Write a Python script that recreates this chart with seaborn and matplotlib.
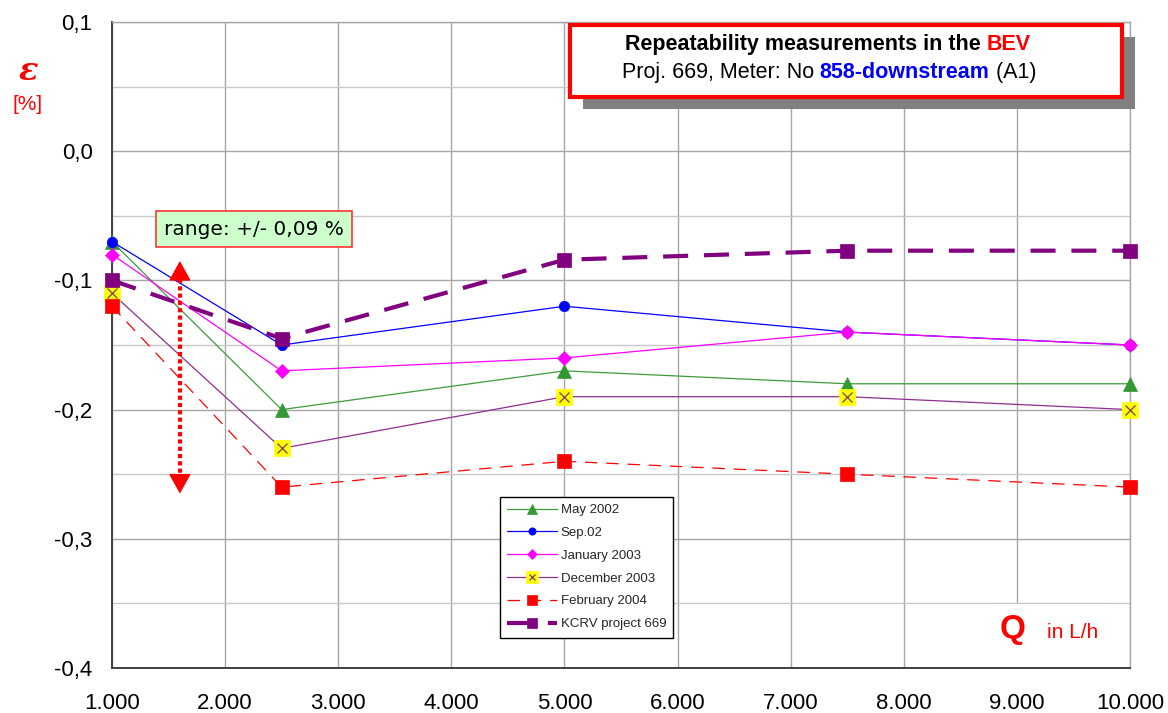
import matplotlib
matplotlib.use("Agg")
import matplotlib.pyplot as plt
import numpy as np
import pandas as pd
import seaborn as sns
from matplotlib.patches import Rectangle
from matplotlib.legend_handler import HandlerTuple
from matplotlib.ticker import FuncFormatter, FixedLocator, MultipleLocator

# ---- data -------------------------------------------------------------
flow_rates = [1000, 2500, 5000, 7500, 10000]          # Q in L/h
may_2002 = [-0.07, -0.20, -0.17, -0.18, -0.18]
sep_2002 = [-0.07, -0.15, -0.12, -0.14, -0.15]
jan_2003 = [-0.08, -0.17, -0.16, -0.14, -0.15]
dec_2003 = [-0.11, -0.23, -0.19, -0.19, -0.20]
feb_2004 = [-0.12, -0.26, -0.24, -0.25, -0.26]
kcrv_669 = [-0.100, -0.145, -0.084, -0.077, -0.077]

series_labels = ["May 2002", "Sep.02", "January 2003", "December 2003",
                 "February 2004", "KCRV project 669"]

x_ticks = [1000, 2000, 3000, 4000, 5000, 6000, 7000, 8000, 9000, 10000]
y_ticks = [-0.4, -0.3, -0.2, -0.1, 0.0, 0.1]

range_center = -0.175
range_half = 0.09
range_x = 1600
range_text = "range: +/- 0,09 %"

# ---- figure -----------------------------------------------------------
sns.set_style("white")
plt.rcParams["font.family"] = ["Liberation Sans", "DejaVu Sans"]

FW, FH = 1168, 713
fig = plt.figure(figsize=(FW / 100, FH / 100), dpi=100)
fig.patch.set_facecolor("white")
ax = fig.add_axes([112 / FW, 1 - 668 / FH, (1130 - 112) / FW, (668 - 22) / FH])
ax.set_axisbelow(True)


def draw_series(values, **kw):
    df = pd.DataFrame({"Q": flow_rates, "eps": values})
    sns.lineplot(data=df, x="Q", y="eps", ax=ax, errorbar=None, sort=False,
                 clip_on=False, **kw)
    return ax.lines[-1]


h_may = draw_series(may_2002, color="#3c9c3c", marker="^", markersize=10,
                    markerfacecolor="#339933", markeredgecolor="#339933",
                    markeredgewidth=0.5, linewidth=0.9, zorder=3)
h_sep = draw_series(sep_2002, color="#0000ff", marker="o", markersize=7.5,
                    markerfacecolor="#0000ff", markeredgecolor="#0000ff",
                    markeredgewidth=0.5, linewidth=0.9, zorder=3)
h_jan = draw_series(jan_2003, color="#ff00ff", marker="D", markersize=7.5,
                    markerfacecolor="#ff00ff", markeredgecolor="#ff00ff",
                    markeredgewidth=0.5, linewidth=0.9, zorder=3)
h_dec = draw_series(dec_2003, color="#8e2e8e", marker="s", markersize=11.5,
                    markerfacecolor="#ffff00", markeredgecolor="#ffff00",
                    markeredgewidth=0.5, linewidth=0.9, zorder=3)
h_dec_x = draw_series(dec_2003, color="#7a3b6e", marker="x", markersize=7,
                      markeredgecolor="#7a3b6e", markeredgewidth=0.9,
                      linestyle="none", zorder=3.1)
h_feb = draw_series(feb_2004, color="#ff0000", marker="s", markersize=10,
                    markerfacecolor="#ff0000", markeredgecolor="#ff0000",
                    markeredgewidth=0.5, linewidth=0.9,
                    linestyle=(0, (10, 7)), zorder=3)
h_kcrv = draw_series(kcrv_669, color="#800080", marker="s", markersize=9.5,
                     markerfacecolor="#800080", markeredgecolor="#800080",
                     markeredgewidth=0.5, linewidth=3,
                     linestyle=(0, (6, 3.8)), zorder=3.2)

# ---- axes styling -----------------------------------------------------
ax.set_xlim(1000, 10000)
ax.set_ylim(-0.4, 0.1)
ax.xaxis.set_major_locator(FixedLocator(x_ticks))
ax.yaxis.set_major_locator(FixedLocator(y_ticks))
ax.yaxis.set_minor_locator(MultipleLocator(0.05))
ax.xaxis.set_major_formatter(FuncFormatter(lambda v, p: f"{int(round(v)):,}".replace(",", ".")))
ax.yaxis.set_major_formatter(FuncFormatter(lambda v, p: f"{v:.1f}".replace(".", ",").replace("-0,0", "0,0")))
ax.set_xlabel("")
ax.set_ylabel("")

ax.grid(True, which="major", axis="both", color="#a6a6a6", linewidth=1)
ax.grid(True, which="minor", axis="y", color="#c8c8c8", linewidth=1)
ax.tick_params(axis="both", which="major", direction="in", length=5, width=1,
               color="#333333", labelsize=16, labelcolor="black")
ax.tick_params(axis="x", pad=18)
ax.tick_params(axis="y", pad=14)
ax.tick_params(axis="y", which="minor", length=0)
for side in ("left", "bottom"):
    ax.spines[side].set_color("#404040")
    ax.spines[side].set_linewidth(1.4)
for side in ("top", "right"):
    ax.spines[side].set_color("#a6a6a6")
    ax.spines[side].set_linewidth(1)

# ---- legend -----------------------------------------------------------
leg = ax.legend(handles=[h_may, h_sep, h_jan, (h_dec, h_dec_x), h_feb, h_kcrv],
                labels=series_labels, loc="upper left",
                bbox_to_anchor=(0.381, 0.265), handler_map={tuple: HandlerTuple(ndivide=1)},
                prop={"size": 9.5}, frameon=True, fancybox=False, framealpha=1,
                edgecolor="black", handlelength=3.8, handletextpad=0.25,
                labelspacing=0.8, borderpad=0.55, borderaxespad=0, markerscale=0.7)
leg.get_frame().set_linewidth(1)
leg.set_zorder(10)

# ---- range annotation -------------------------------------------------
top = range_center + range_half
bot = range_center - range_half
head = 0.014
ax.plot([range_x, range_x], [top - head, bot + head], color="red", linewidth=3,
        linestyle=(0, (1, 0.75)), dash_capstyle="butt", zorder=4)
for tip, base in ((top, top - head), (bot, bot + head)):
    ax.annotate("", xy=(range_x, tip), xytext=(range_x, base),
                arrowprops=dict(arrowstyle="-|>,head_length=0.9,head_width=0.5",
                                color="red", lw=1, shrinkA=0, shrinkB=0,
                                mutation_scale=14), zorder=4)
ax.text(2255, -0.0603, range_text, ha="center", va="center", fontsize=14.5,
        family=["DejaVu Sans"], color="black", zorder=6,
        bbox=dict(boxstyle="square,pad=0.42", fc="#ccffcc", ec="#ff3333", lw=1.2))

# ---- Q axis caption (white patch over the grid) ------------------------
ax.add_patch(Rectangle(((990 - 112) / 1018, 0), (1108 - 990) / 1018, (668 - 604) / 646,
                       transform=ax.transAxes, facecolor="white", edgecolor="none",
                       zorder=1))
fig.text(1000 / FW, 1 - 638 / FH, "Q", fontsize=24, fontweight="bold", color="red",
         ha="left", va="baseline")
fig.text(1047 / FW, 1 - 638 / FH, "in L/h", fontsize=15, color="red",
         ha="left", va="baseline")

# ---- epsilon axis caption ---------------------------------------------
fig.text(28 / FW, 1 - 72 / FH, "ε", fontsize=23, family=["DejaVu Serif"],
         style="italic", fontweight="bold", color="red", ha="center", va="center")
fig.text(28 / FW, 1 - 105 / FH, "[%]", fontsize=15, color="red",
         ha="center", va="center")

# ---- title box --------------------------------------------------------
bx0, by0, bx1, by1 = 570, 25, 1122, 97
fig.add_artist(Rectangle(((bx0 + 13) / FW, 1 - (by1 + 12) / FH), (bx1 - bx0) / FW,
                         (by1 - by0) / FH, transform=fig.transFigure,
                         facecolor="#808080", edgecolor="none", zorder=2))
fig.add_artist(Rectangle((bx0 / FW, 1 - by1 / FH), (bx1 - bx0) / FW, (by1 - by0) / FH,
                         transform=fig.transFigure, facecolor="white",
                         edgecolor="#ff0000", linewidth=3, zorder=3))

renderer = fig.canvas.get_renderer()


def advance(s, size, weight):
    a = fig.text(0, 0, "|" + s + "|", fontsize=size, fontweight=weight)
    b = fig.text(0, 0, "||", fontsize=size, fontweight=weight)
    w = a.get_window_extent(renderer).width - b.get_window_extent(renderer).width
    a.remove()
    b.remove()
    return w


def centered_line(pieces, cx, base_y, size):
    widths = [advance(s, size, wt) for s, _, wt in pieces]
    x = cx - sum(widths) / 2
    for (s, col, wt), w in zip(pieces, widths):
        fig.text(x / FW, 1 - base_y / FH, s, fontsize=size, fontweight=wt, color=col,
                 ha="left", va="baseline", zorder=5)
        x += w


centered_line([("Repeatability measurements in the ", "black", "bold"),
               ("BEV", "#ff0000", "bold")], 828, 50, 15.5)
centered_line([("Proj. 669, Meter: No ", "black", "normal"),
               ("858-downstream", "#0000ff", "bold"),
               (" (A1)", "black", "normal")], 829, 78, 15.5)

fig.savefig("out.png", dpi=100, facecolor="white")
